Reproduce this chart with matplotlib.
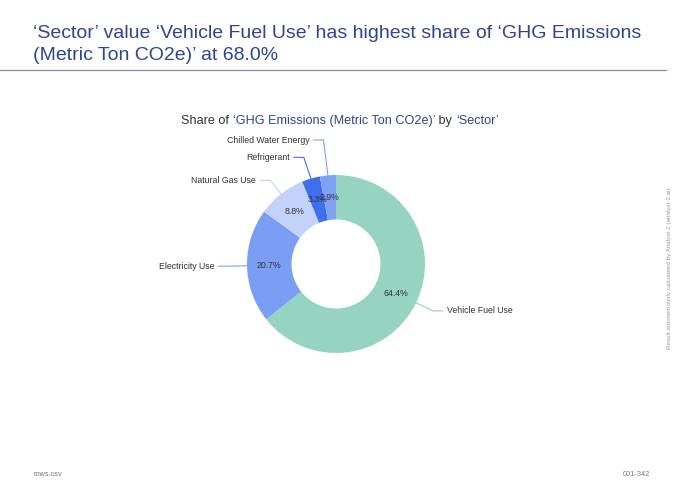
import numpy as np
import matplotlib.pyplot as plt

plt.rcParams['font.family'] = ['Liberation Sans', 'DejaVu Sans']

# data
sectors = ["Vehicle Fuel Use", "Electricity Use", "Natural Gas Use", "Refrigerant", "Chilled Water Energy"]
shares = [64.4, 20.7, 8.8, 3.3, 2.9]
colors = ["#96d3c1", "#7b9ef5", "#c3d2f8", "#3f6ff0", "#7fa2f5"]
elbow_r = [1.21, 1.21, 1.195, 1.231, 1.396]   # where the leader line bends
elbow_dx = [0, 0, 0, -0.08, -0.05]             # sideways shift for near-top labels

W, H = 680, 486
fig = plt.figure(figsize=(W / 100, H / 100), dpi=100)

NAVY = "#2e4591"
GREY = "#333333"

# ---- header ----
fig.text(33 / W, 1 - 33 / H, "\u2018Sector\u2019 value \u2018Vehicle Fuel Use\u2019 has highest share of \u2018GHG Emissions",
         fontsize=14.0, color=NAVY, va="center", ha="left")
fig.text(33 / W, 1 - 55 / H, "(Metric Ton CO2e)\u2019 at 68.0%",
         fontsize=14.0, color=NAVY, va="center", ha="left")
fig.add_artist(plt.Line2D([0, 666 / W], [1 - 70 / H, 1 - 70 / H], color="#7f8aa8", lw=0.9))

# ---- chart title with coloured parts ----
parts = [("Share of ", GREY), ("\u2018GHG Emissions (Metric Ton CO2e)\u2019", NAVY),
         (" by ", GREY), ("\u2018Sector\u2019", NAVY)]
renderer = fig.canvas.get_renderer()
pieces = []
for s, c in parts:
    t = fig.text(0, 1 - 121 / H, s, fontsize=9.1, color=c, va="center", ha="left")
    pieces.append(t)
widths = [t.get_window_extent(renderer).width for t in pieces]
x = 340 - sum(widths) / 2
for t, w in zip(pieces, widths):
    t.set_x(x / W)
    x += w

# ---- donut ----
cx, cy, R = 336, 264, 89
ax = fig.add_axes([(cx - R) / W, (H - cy - R) / H, 2 * R / W, 2 * R / H])

wedges, _ = ax.pie(shares, colors=colors, startangle=90, counterclock=False, radius=1,
                   wedgeprops=dict(width=0.5, edgecolor="none"))
ax.set_xlim(-1, 1)
ax.set_ylim(-1, 1)
ax.set_aspect("equal")
ax.axis("off")

for w, name, val, er, dx in zip(wedges, sectors, shares, elbow_r, elbow_dx):
    mid = np.deg2rad((w.theta1 + w.theta2) / 2)
    c, s = np.cos(mid), np.sin(mid)
    ax.text(0.75 * c, 0.75 * s, f"{val}%", fontsize=6.3, color=GREY, ha="center", va="center")
    # leader line
    ex, ey = c, s
    if s > 0.9:
        bx, by = ex + dx, np.sqrt(er ** 2 - ex ** 2)
    else:
        bx, by = er * c, er * s
    side = 1 if c > 0 else -1
    hx = bx + side * 0.11
    ax.plot([ex, bx, hx], [ey, by, by], color=w.get_facecolor(), lw=0.8, clip_on=False)
    ax.text(hx + side * 0.05, by, name, fontsize=6.3, color=GREY,
            ha="left" if side > 0 else "right", va="center")

# ---- footer / side notes ----
fig.text(33 / W, 1 - 474 / H, "rows.csv", fontsize=5.3, color="#777777", va="center", ha="left")
fig.text(650 / W, 1 - 474 / H, "001-342", fontsize=5.3, color="#777777", va="center", ha="right")
fig.text(670 / W, 1 - 268 / H, "Result autonomously calculated by Analyst-2 (analyst-2.ai)",
         fontsize=4.5, color="#999999", rotation=90, va="center", ha="center")

fig.savefig("out.png", dpi=100)
